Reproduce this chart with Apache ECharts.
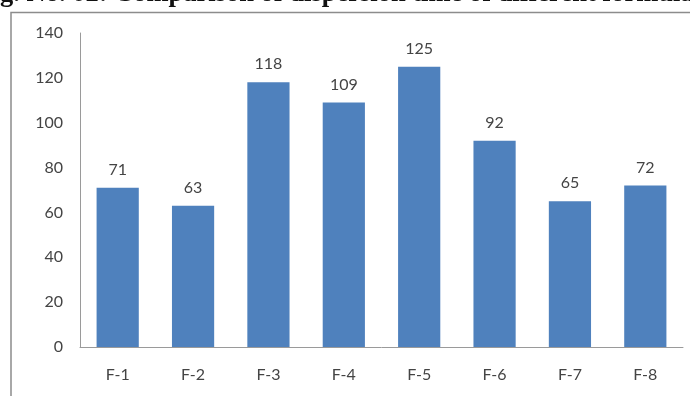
<!DOCTYPE html>
<html><head><meta charset="utf-8">
<script src="https://cdn.jsdelivr.net/npm/echarts@6/dist/echarts.min.js"></script>
<style>html,body{margin:0;padding:0;background:#fff}#c{width:690px;height:396px}</style>
</head><body><div id="c"></div>
<script>
const categories = ['F-1','F-2','F-3','F-4','F-5','F-6','F-7','F-8'];
const values = [71, 63, 118, 109, 125, 92, 65, 72];
const titleText = 'Fig. No. 02: Comparison of dispersion time of different formulations';

const titleFont = 'bold 26.5px "Liberation Serif"';
const cv = document.createElement('canvas').getContext('2d');
cv.font = titleFont;
const fiW = cv.measureText('Fi').width;

const chart = echarts.init(document.getElementById('c'));
chart.setOption({
  animation: false,
  grid: {left: 80, right: 7, top: 33, bottom: 49},
  graphic: [
    {type: 'rect', shape: {x: 11, y: 12.5, width: 720, height: 420}, style: {fill: 'none', stroke: '#8c8c8c', lineWidth: 1.5}, z: 0},
    {type: 'text', x: -fiW, y: 8, style: {text: titleText, font: titleFont, fill: '#111', textVerticalAlign: 'bottom'}}
  ],
  xAxis: {
    type: 'category', data: categories,
    axisLine: {lineStyle: {color: '#9a9a9a', width: 1}},
    axisTick: {show: false},
    axisLabel: {color: '#444', fontFamily: 'Lato', fontSize: 16, margin: 20}
  },
  yAxis: {
    type: 'value', min: 0, max: 140, interval: 20,
    axisLine: {show: true, lineStyle: {color: '#9a9a9a', width: 1}},
    axisTick: {show: false},
    splitLine: {show: false},
    axisLabel: {color: '#444', fontFamily: 'Lato', fontSize: 16, margin: 17}
  },
  series: [{
    type: 'bar', data: values, barWidth: '56%',
    itemStyle: {color: '#4f81bd'},
    label: {show: true, position: 'top', distance: 10, color: '#444', fontFamily: 'Lato', fontSize: 16}
  }]
});
</script></body></html>
